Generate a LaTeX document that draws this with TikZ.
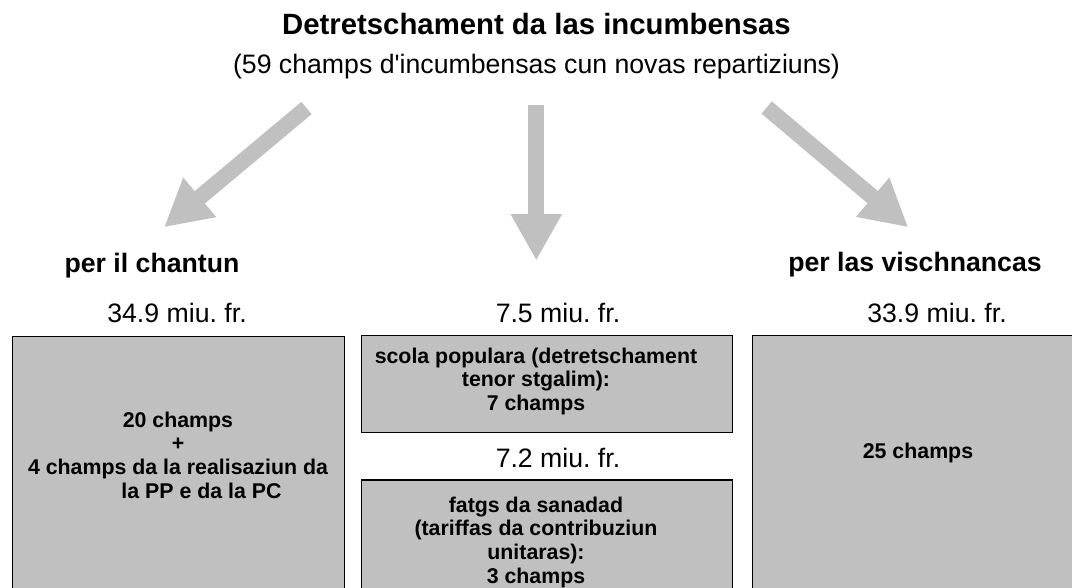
\documentclass[tikz,border=0pt]{standalone}
\usepackage{fontspec}
\setmainfont{Liberation Sans}
\usetikzlibrary{arrows.meta}
\definecolor{grau}{HTML}{C0C0C0}

\begin{document}
\begin{tikzpicture}
  [x=0.75pt,y=-0.75pt,
   every node/.style={inner sep=0pt,anchor=base},
   box/.style={draw=black,line width=1pt,fill=grau,anchor=north west},
   boxtext/.style={font=\fontsize{16}{17.8}\selectfont\bfseries,align=center},
   head/.style={font=\fontsize{20}{24}\selectfont\bfseries},
   sum/.style={font=\fontsize{20}{24}\selectfont},
   arr/.style={draw=grau,line width=12pt,-{Triangle[length=35pt,width=36pt]}}]
  \useasboundingbox (0,0) rectangle (1072,588);
  \clip (0,0) rectangle (1072,588);

  \node[font=\fontsize{22}{26}\selectfont\bfseries] (titel) at (536.5,35) {Detretschament da las incumbensas};
  \node[sum] (subtitel) at (536.5,74) {(59 champs d\textquotesingle incumbensas cun novas repartiziuns)};

  \coordinate (a0) at (306.5,108);  \coordinate (t0) at (164,227.3);
  \coordinate (a1) at (536.3,105);  \coordinate (t1) at (536.3,260.7);
  \coordinate (a2) at (766.7,107.5); \coordinate (t2) at (908.3,227.3);
  \foreach \from/\to in {a0/t0,a1/t1,a2/t2}
    \draw[arr] (\from) -- (\to);

  \node[head] (chantun) at (152,273) {per il chantun};
  \node[head] (vischnancas) at (915,272) {per las vischnancas};

  \node[sum] (sum0) at (177,322) {34.9 miu.\ fr.};
  \node[sum] (sum1) at (558,323) {7.5 miu.\ fr.};
  \node[sum] (sum2) at (558,467) {7.2 miu.\ fr.};
  \node[sum] (sum3) at (937,322) {33.9 miu.\ fr.};

  \node[box,minimum width=249pt,minimum height=213pt] (b0) at (12,336) {};
  \node[box,minimum width=278.25pt,minimum height=72.5pt] (b1) at (361,335) {};
  \node[box,minimum width=278.25pt,minimum height=110pt] (b2) at (361,479.3) {};
  \node[box,minimum width=253.5pt,minimum height=213pt] (b3) at (752,335) {};

  % base = baseline of the last line
  \node[boxtext] (txt0) at (178,498.3) {20 champs\\+\\4 champs da la realisaziun da\\\hspace*{2.2em}la PP e da la PC};
  \node[boxtext] (txt1) at (536,410.7) {scola populara (detretschament\\tenor stgalim):\\7 champs};
  \node[boxtext] (txt2) at (536,583.3) {fatgs da sanadad\\(tariffas da contribuziun\\unitaras):\\3 champs};
  \node[boxtext] (txt3) at (918,458.3) {25 champs};
\end{tikzpicture}
\end{document}
